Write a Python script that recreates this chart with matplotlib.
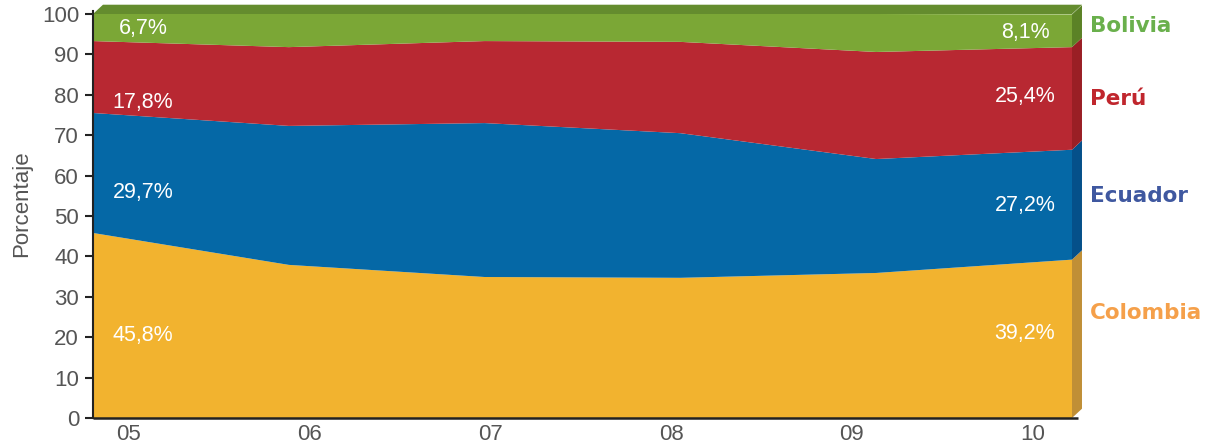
import matplotlib
matplotlib.use("Agg")
import matplotlib.pyplot as plt
import numpy as np

# === Data (share by country, %) ===
years = ['05', '06', '07', '08', '09', '10']
colombia = [45.8, 37.9, 34.9, 34.7, 35.9, 39.2]
ecuador = [29.7, 34.4, 38.1, 35.8, 28.2, 27.2]
peru = [17.8, 19.5, 20.3, 22.6, 26.5, 25.4]
bolivia = [6.7, 8.2, 6.7, 6.9, 9.4, 8.1]

countries = ['Colombia', 'Ecuador', 'Perú', 'Bolivia']
first_labels = ['45,8%', '29,7%', '17,8%', '6,7%']
last_labels = ['39,2%', '27,2%', '25,4%', '8,1%']

# === Styles ===
face_colors = ['#f2b32f', '#0568a6', '#b82832', '#7ba736']
side_colors = ['#c08f36', '#05508a', '#9a1f25', '#5b8226']
top_color = '#648c2e'
name_colors = ['#f5a04a', '#3f58a0', '#c0262d', '#6ab04c']
label_y_first = [20.5, 55.9, 78.2, 96.5]
label_y_last = [20.8, 52.5, 79.5, 95.5]
name_y = [26.0, 55.0, 79.0, 97.0]

plt.rcParams.update({
    "font.family": ["Liberation Sans", "DejaVu Sans"],
})

fig = plt.figure(figsize=(12.15, 4.45), dpi=100)
ax = fig.add_axes([93 / 1215, 27 / 445, 979 / 1215, 404 / 445])

x = np.arange(len(years))
series = [colombia, ecuador, peru, bolivia]
ax.stackplot(x, *series, colors=face_colors, linewidth=0)

# pseudo-3D faces (right side and top)
dx, dy = 0.051, 2.3
xe = x[-1]
lo = 0.0
for vals, col in zip(series, side_colors):
    hi = lo + vals[-1]
    ax.fill([xe, xe + dx, xe + dx, xe], [lo, lo + dy, hi + dy, hi],
            color=col, lw=0, clip_on=False)
    lo = hi
ax.fill([0, dx, xe + dx, xe], [100, 100 + dy, 100 + dy, 100],
        color=top_color, lw=0, clip_on=False)

# value labels
for i in range(4):
    ax.text(0.255, label_y_first[i], first_labels[i], color='white',
            fontsize=15.5, ha='center', va='center')
    ax.text(4.76, label_y_last[i], last_labels[i], color='white',
            fontsize=15.5, ha='center', va='center')
    ax.text(5.09, name_y[i], countries[i], color=name_colors[i],
            fontsize=15.5, fontweight='bold', ha='left', va='center',
            family=['DejaVu Sans'], clip_on=False)

ax.set_xlim(0, 5)
ax.set_ylim(0, 100)
ax.set_yticks(np.arange(0, 101, 10))
ax.set_xticks(0.18 + 0.924 * x)
ax.set_xticklabels(years)
ax.tick_params(axis='y', direction='out', length=6, width=1.5,
               color='#222222', labelsize=16, labelcolor='#555555', pad=4)
ax.tick_params(axis='x', length=0, labelsize=16, labelcolor='#555555', pad=4)
ax.set_ylabel('Porcentaje', fontsize=16, color='#555555')
ax.yaxis.set_label_coords(-0.062, 0.53)

for s in ['top', 'right', 'bottom']:
    ax.spines[s].set_visible(False)
ax.spines['left'].set_color('#222222')
ax.spines['left'].set_linewidth(1.5)
ax.spines['left'].set_bounds(0, 100.8)
ax.plot([0, 5.03], [0, 0], color='#222222', lw=1.8, clip_on=False,
        solid_capstyle='butt')

fig.savefig('out.png', dpi=100)
